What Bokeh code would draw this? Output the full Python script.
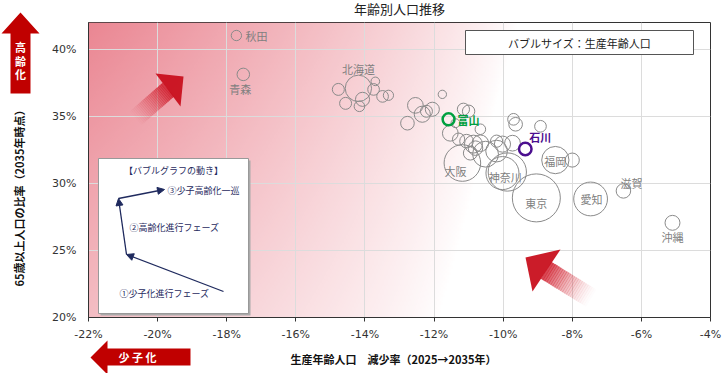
import numpy as np
from bokeh.plotting import figure
from bokeh.models import (ColumnDataSource, FixedTicker, PrintfTickFormatter, Arrow, NormalHead,
                          Range1d, GridBox)
from bokeh.core.properties import value
from bokeh.embed import file_html
from bokeh.resources import INLINE

# ---------------- data ----------------
names = ["秋田", "青森", "北海道", "大阪", "神奈川", "東京", "愛知", "福岡", "滋賀", "沖縄", "富山", "石川",
         "", "", "", "", "", "", "", "", "", "", "", "", "", "", "", "", "", "", "", "",
         "", "", "", "", "", "", "", "", "", "", "", "", "", "", ""]
# 生産年齢人口 減少率 (2025→2035, %)
decline = [-17.72, -17.52, -14.19, -11.18, -9.88, -9.04, -7.47, -8.49, -6.52, -5.10, -11.58, -9.36,
           -14.77, -14.56, -14.16, -14.07, -13.70, -13.75, -13.49, -13.32, -11.76, -12.54, -12.34, -12.05,
           -12.77, -11.15, -11.00, -11.53, -10.66, -10.86, -10.66, -10.80, -10.51, -10.02, -9.73, -9.70,
           -9.64, -8.92, -10.02, -8.00, -11.06, -10.19, -11.38, -11.29, -10.95, -12.22, -10.19]
# 65歳以上人口の比率 (2035, %)
aged = [41.03, 38.13, 37.09, 31.52, 30.85, 28.92, 28.84, 31.74, 29.44, 27.06, 34.78, 32.56,
        37.01, 35.97, 35.75, 36.27, 37.61, 37.01, 36.49, 36.57, 36.64, 35.82, 35.16, 35.53,
        34.49, 35.53, 35.38, 33.74, 34.04, 32.93, 33.00, 32.63, 32.18, 32.93, 33.00, 34.78,
        34.41, 34.26, 30.77, 31.74, 33.15, 33.15, 34.49, 33.30, 32.26, 35.38, 32.41]
# 生産年齢人口 (万人)
workpop = [43, 63, 280, 540, 590, 930, 460, 300, 85, 90, 57, 63,
           58, 58, 45, 80, 30, 55, 55, 42, 28, 100, 105, 80,
           75, 60, 62, 100, 45, 130, 110, 85, 270, 105, 100, 55,
           75, 55, 440, 80, 75, 60, 32, 60, 78, 58, 190]

x_ticks = [-22, -20, -18, -16, -14, -12, -10, -8, -6, -4]
y_ticks = [20, 25, 30, 35, 40]
x_lo, x_hi = -22, -4
y_lo, y_hi = 20, 42

title_text = "年齢別人口推移"
x_title = "生産年齢人口　減少率（2025→2035年）"
y_title = "65歳以上人口の比率（2035年時点）"
size_note = "バブルサイズ：生産年齢人口"
inset_title = "【バブルグラフの動き】"
phase_texts = ["①少子化進行フェーズ", "②高齢化進行フェーズ", "③少子高齢化一巡"]

highlight = {"富山": "#00A040", "石川": "#4B0F8F"}
label_offsets = {"秋田": (20, 0), "青森": (-3, 15), "北海道": (0, -19), "大阪": (-7, 8),
                 "神奈川": (-2, 5), "東京": (0, 5), "愛知": (1, 0), "福岡": (0, 1),
                 "滋賀": (8, -8), "沖縄": (0, 14), "富山": (20, 1), "石川": (15, -12)}

FONT = "Noto Sans CJK JP"
W_PX, H_PX = 722, 373

# ---------------- main chart ----------------
p = figure(width=W_PX, height=H_PX, x_range=Range1d(x_lo, x_hi), y_range=Range1d(y_lo, y_hi),
           output_backend="svg", toolbar_location=None,
           min_border_left=88, min_border_right=12, min_border_top=22, min_border_bottom=56,
           background_fill_color="white", border_fill_color="white",
           outline_line_color="#333333", outline_line_width=1)
p.frame_align = False

# background gradient (styling only)
H, W = 148, 311
vv = np.linspace(0, 1, H)[:, None]
uu = np.linspace(0, 1, W)[None, :]
wend = (430 - 78 * vv) / 622.0
t = np.clip(uu / wend, 0, 1)
alpha = (1 - 0.45 * vv) * (1 - t) ** 0.8
alpha = alpha[::-1]
img = np.empty((H, W), dtype=np.uint32)
view = img.view(dtype=np.uint8).reshape((H, W, 4))
view[..., 0] = 234
view[..., 1] = 134
view[..., 2] = 146
view[..., 3] = (alpha * 255).astype(np.uint8)
p.image_rgba(image=[img], x=x_lo, y=y_lo, dw=x_hi - x_lo, dh=y_hi - y_lo, level="image")

for ax in (p.xaxis, p.yaxis):
    ax.formatter = PrintfTickFormatter(format="%d%%")
    ax.major_label_text_font = "DejaVu Sans"
    ax.major_label_text_font_size = "11px"
    ax.major_label_text_color = "#333333"
    ax.axis_line_color = "#333333"
    ax.minor_tick_line_color = None
    ax.axis_label = None
p.xaxis.ticker = FixedTicker(ticks=x_ticks)
p.yaxis.ticker = FixedTicker(ticks=y_ticks)
p.xaxis.major_tick_out = 4
p.xaxis.major_tick_in = 0
p.xaxis.major_tick_line_color = "#333333"
p.xaxis.major_label_standoff = 6
p.yaxis.major_tick_out = 0
p.yaxis.major_tick_in = 0
p.yaxis.major_label_standoff = 12
p.xgrid.grid_line_color = "#dcdcdc"
p.ygrid.grid_line_color = "#dcdcdc"

sizes = [48 * np.sqrt(v / 930.0) for v in workpop]
norm_idx = [i for i, n in enumerate(names) if n not in highlight]
src = ColumnDataSource(dict(x=[decline[i] for i in norm_idx], y=[aged[i] for i in norm_idx],
                            size=[sizes[i] for i in norm_idx]))
p.scatter(x="x", y="y", size="size", source=src, marker="circle", fill_color=None,
          line_color="#8a8a8a", line_width=1)
for n, col in highlight.items():
    i = names.index(n)
    hs = ColumnDataSource(dict(x=[decline[i]], y=[aged[i]], size=[sizes[i]]))
    p.scatter(x="x", y="y", size="size", source=hs, marker="circle", fill_color=None,
              line_color=col, line_width=2.5)

lab_idx = [i for i, n in enumerate(names) if n and n not in highlight]
lsrc = ColumnDataSource(dict(x=[decline[i] for i in lab_idx], y=[aged[i] for i in lab_idx],
                             text=[names[i] for i in lab_idx],
                             xo=[label_offsets[names[i]][0] for i in lab_idx],
                             yo=[label_offsets[names[i]][1] for i in lab_idx]))
p.text(x="x", y="y", text="text", x_offset="xo", y_offset="yo", source=lsrc,
       text_font=value(FONT), text_font_size="11px", text_color="#7f7f7f",
       text_align="center", text_baseline="middle")
for n, col in highlight.items():
    i = names.index(n)
    hs = ColumnDataSource(dict(x=[decline[i]], y=[aged[i]], text=[n],
                               xo=[label_offsets[n][0]], yo=[label_offsets[n][1]]))
    p.text(x="x", y="y", text="text", x_offset="xo", y_offset="yo", source=hs,
           text_font=value(FONT), text_font_size="11px", text_font_style="bold", text_color=col,
           text_align="center", text_baseline="middle")

# ---------------- decoration overlay (pixel coordinates of the page) ----------------
o = figure(width=W_PX, height=H_PX, x_range=Range1d(0, W_PX), y_range=Range1d(H_PX, 0),
           output_backend="svg", toolbar_location=None, min_border=0,
           min_border_left=0, min_border_right=0, min_border_top=0, min_border_bottom=0,
           x_axis_type=None, y_axis_type=None,
           background_fill_alpha=0, border_fill_alpha=0, outline_line_color=None)
o.frame_align = False
o.grid.visible = False

RED = "#C00000"
NAVY = "#1F2A5E"


def txt(x, y, s, size="11px", color="#333333", bold=False, align="center", angle=0.0):
    o.text(x=[x], y=[y], text=[s], text_font=value(FONT), text_font_size=size, text_color=color,
           text_font_style="bold" if bold else "normal", text_align=align,
           text_baseline="middle", angle=angle)


def shape(pts, fill, line=None, alpha=1.0, lw=1):
    o.patch(x=[q[0] for q in pts], y=[q[1] for q in pts], fill_color=fill, fill_alpha=alpha,
            line_color=line, line_width=lw)


# title & axis titles
txt(399, 8, title_text, size="13px", color="#222222")
txt(18, 195, y_title, size="11px", color="#111111", bold=True, angle=np.pi / 2)
txt(393, 358, x_title, size="11px", color="#111111", bold=True)

# 高齢化 arrow
shape([(20, 12), (39, 33), (30, 33), (30, 93), (10, 93), (10, 33), (1, 33)], RED)
for ch, yy in zip("高齢化", (46, 60, 73)):
    txt(20, yy, ch, size="11px", color="white", bold=True)
# 少子化 arrow
shape([(90, 357), (107, 340), (107, 348), (190, 348), (190, 365), (107, 365), (107, 374)], RED)
txt(137, 356, "少 子 化", size="11px", color="white", bold=True)


def grad_arrow(T, A, B, L, h, n_seg=24):
    T = np.array(T, float); A = np.array(A, float); B = np.array(B, float)
    M = (A + B) / 2
    u = (T - M) / np.linalg.norm(T - M)
    nrm = np.array([-u[1], u[0]])
    xs, ys, al = [], [], []
    for k in range(n_seg):
        s0, s1 = k / n_seg * L, (k + 1) / n_seg * L
        P0 = M - (L - s0) * u
        P1 = M - (L - s1) * u + 0.6 * u
        pts = [P0 + h * nrm, P1 + h * nrm, P1 - h * nrm, P0 - h * nrm]
        xs.append([q[0] for q in pts]); ys.append([q[1] for q in pts])
        al.append(0.85 * ((k + 0.5) / n_seg) ** 1.6)
    o.patches(xs=xs, ys=ys, fill_color="#D0202E", fill_alpha=al, line_color=None)
    shape([tuple(T), tuple(A), tuple(B)], "#C8101E", None, alpha=0.95)


grad_arrow((183, 76), (155, 73), (180, 106), 45, 9)
grad_arrow((525, 257), (560, 249), (532, 291), 55, 10)

# bubble-size note box
shape([(465, 30), (693, 30), (693, 54), (465, 54)], "white", "#555555", lw=1)
txt(579, 42, size_note, size="11px", color="#222222")

# inset explanation box
shape([(100, 160), (250, 160), (250, 315), (100, 315)], "#aaaaaa", None)
shape([(98, 158), (248, 158), (248, 313), (98, 313)], "white", "#999999", lw=1)
txt(173, 170, inset_title, size="9px", color=NAVY)
for (x0, y0), (x1, y1) in [((223, 291), (126, 254)), ((126, 254), (118, 198)), ((118, 198), (164, 189))]:
    o.add_layout(Arrow(x_start=x0, y_start=y0, x_end=x1, y_end=y1,
                       line_color=NAVY, line_width=1.3,
                       end=NormalHead(size=7, fill_color=NAVY, line_color=NAVY)))
txt(119, 293, phase_texts[0], size="9px", color=NAVY, align="left")
txt(129, 227, phase_texts[1], size="9px", color=NAVY, align="left")
txt(167, 190, phase_texts[2], size="9px", color=NAVY, align="left")

layout = GridBox(children=[(p, 0, 0), (o, 0, 0)])
open("out.html", "w").write(file_html(layout, INLINE))
